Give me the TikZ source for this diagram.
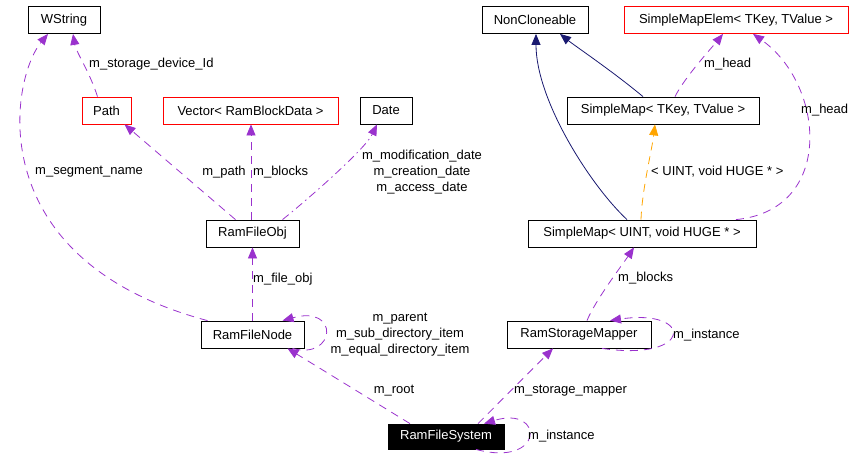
\documentclass[tikz,border=0pt]{standalone}
\usepackage{fontspec}
\setmainfont{Liberation Sans}
\usetikzlibrary{arrows.meta,calc}

\definecolor{usecol}{HTML}{9A32CD}
\definecolor{inhcol}{HTML}{191970}
\definecolor{tplcol}{HTML}{FFA500}

\begin{document}
\begin{tikzpicture}[x=1pt,y=-1pt,
    font=\fontsize{13}{16}\selectfont,
    cls/.style={draw,line width=0.8pt,minimum height=27pt,inner sep=0pt},
    tcls/.style={cls,draw=red},
    cur/.style={cls,fill=black,text=white,minimum height=25pt},
    uses/.style={usecol,line width=0.8pt,dash pattern=on 8pt off 6pt,-{Triangle[length=11pt,width=9pt]}},
    inh/.style={inhcol,line width=0.8pt,-{Triangle[length=11pt,width=9pt]}},
    tpl/.style={tplcol,line width=0.8pt,dash pattern=on 8pt off 6pt,-{Triangle[length=11pt,width=9pt]}},
    lbl/.style={inner sep=0pt,anchor=west}
]
\useasboundingbox (0,0) rectangle (863,464);

% classes
\node[cls,minimum width=72pt] (ws) at (64,20) {WString};
\node[tcls,minimum width=49pt] (path) at (106.5,110.5) {Path};
\node[tcls,minimum width=175pt] (vec) at (250.5,110.5) {Vector< RamBlockData >};
\node[cls,minimum width=52pt] (date) at (386,110.5) {Date};
\node[cls,minimum width=106pt] (nc) at (535,20) {NonCloneable};
\node[tcls,minimum width=224pt] (sme) at (736,20) {SimpleMapElem< TKey, TValue >};
\node[cls,minimum width=192pt] (smt) at (663,110.5) {SimpleMap< TKey, TValue >};
\node[cls,minimum width=228pt] (smu) at (642,233.5) {SimpleMap< UINT, void HUGE * >};
\node[cls,minimum width=93pt] (rfo) at (252.5,233.5) {RamFileObj};
\node[cls,minimum width=103pt] (rfn) at (252.5,334.5) {RamFileNode};
\node[cls,minimum width=144pt] (rsm) at (579,334.5) {RamStorageMapper};
\node[cur,minimum width=116pt] (rfs) at (446,436.5) {RamFileSystem};

% left part
\draw[uses] ([xshift=-9]path.north) .. controls +(-8,-25) and +(3,18) .. ([xshift=9]ws.south);
\node[lbl] (lsdi) at (89,64) {m\_storage\_device\_Id};
\draw[uses] ([xshift=-45]rfn.north) .. controls (-20,260) and (10,80) .. ([xshift=-16]ws.south);
\node[lbl] (lseg) at (35,172) {m\_segment\_name};
\draw[uses] ([xshift=-17]rfo.north) .. controls +(-35,-30) and +(35,30) .. ([xshift=18]path.south);
\node[inner sep=0pt] (lpath) at (224,172) {m\_path};
\draw[uses] ([xshift=-1.5]rfo.north) -- ([xshift=0.5]vec.south);
\node[lbl] (lblk) at (253,172) {m\_blocks};
\draw[uses,dash pattern=on 8pt off 4pt on 1.5pt off 4pt] ([xshift=30]rfo.north) .. controls +(25,-20) and +(-12,25) .. ([xshift=-9]date.south);
\node[inner sep=0pt,align=center] (ldate) at (422,172) {m\_modification\_date\\m\_creation\_date\\m\_access\_date};
\draw[uses] (rfn.north) -- (rfo.south);
\node[lbl] (lfo) at (253,279) {m\_file\_obj};
\draw[uses] ([xshift=40]rfn.south) .. controls +(43,12) and +(58,-16) .. ([xshift=30]rfn.north);
\node[inner sep=0pt,align=center] (ldir) at (400,335) {m\_parent\\m\_sub\_directory\_item\\m\_equal\_directory\_item};

% bottom part
\draw[uses] ([xshift=-36]rfs.north) -- ([xshift=35]rfn.south);
\node[inner sep=0pt] (lroot) at (394,391) {m\_root};
\draw[uses] ([xshift=32]rfs.north) -- ([xshift=-26]rsm.south);
\node[lbl] (lsm) at (514,391) {m\_storage\_mapper};
\draw[uses] ([xshift=30]rfs.south) .. controls (545,468) and (545,405) .. ([xshift=38]rfs.north);
\node[lbl] (linst1) at (528,436) {m\_instance};
\draw[uses] ([xshift=8]rsm.north) .. controls +(8,-20) and +(-10,15) .. ([xshift=-8]smu.south);
\node[lbl] (lblk2) at (618,278) {m\_blocks};
\draw[uses] ([xshift=23]rsm.south) .. controls (694,362) and (694,308) .. ([xshift=31]rsm.north);
\node[lbl] (linst2) at (673,335) {m\_instance};

% right part
\draw[inh] ([xshift=-15]smu.north) .. controls (590,185) and (536,100) .. ([xshift=1]nc.south);
\draw[inh] ([xshift=-20]smt.north) .. controls +(-30,-25) and +(15,12) .. ([xshift=25]nc.south);
\draw[tpl] ([xshift=-1]smu.north) .. controls +(1,-30) and +(-3,25) .. ([xshift=-8]smt.south);
\node[lbl] (ltpl) at (651,172) {< UINT, void HUGE * >};
\draw[uses] ([xshift=12]smt.north) .. controls +(10,-20) and +(-8,10) .. ([xshift=-13]sme.south);
\node[lbl] (lhead1) at (704,64) {m\_head};
\draw[uses] ([xshift=94]smu.north) .. controls (835,210) and (825,85) .. ([xshift=17]sme.south);
\node[lbl] (lhead2) at (801,110) {m\_head};
\end{tikzpicture}
\end{document}
